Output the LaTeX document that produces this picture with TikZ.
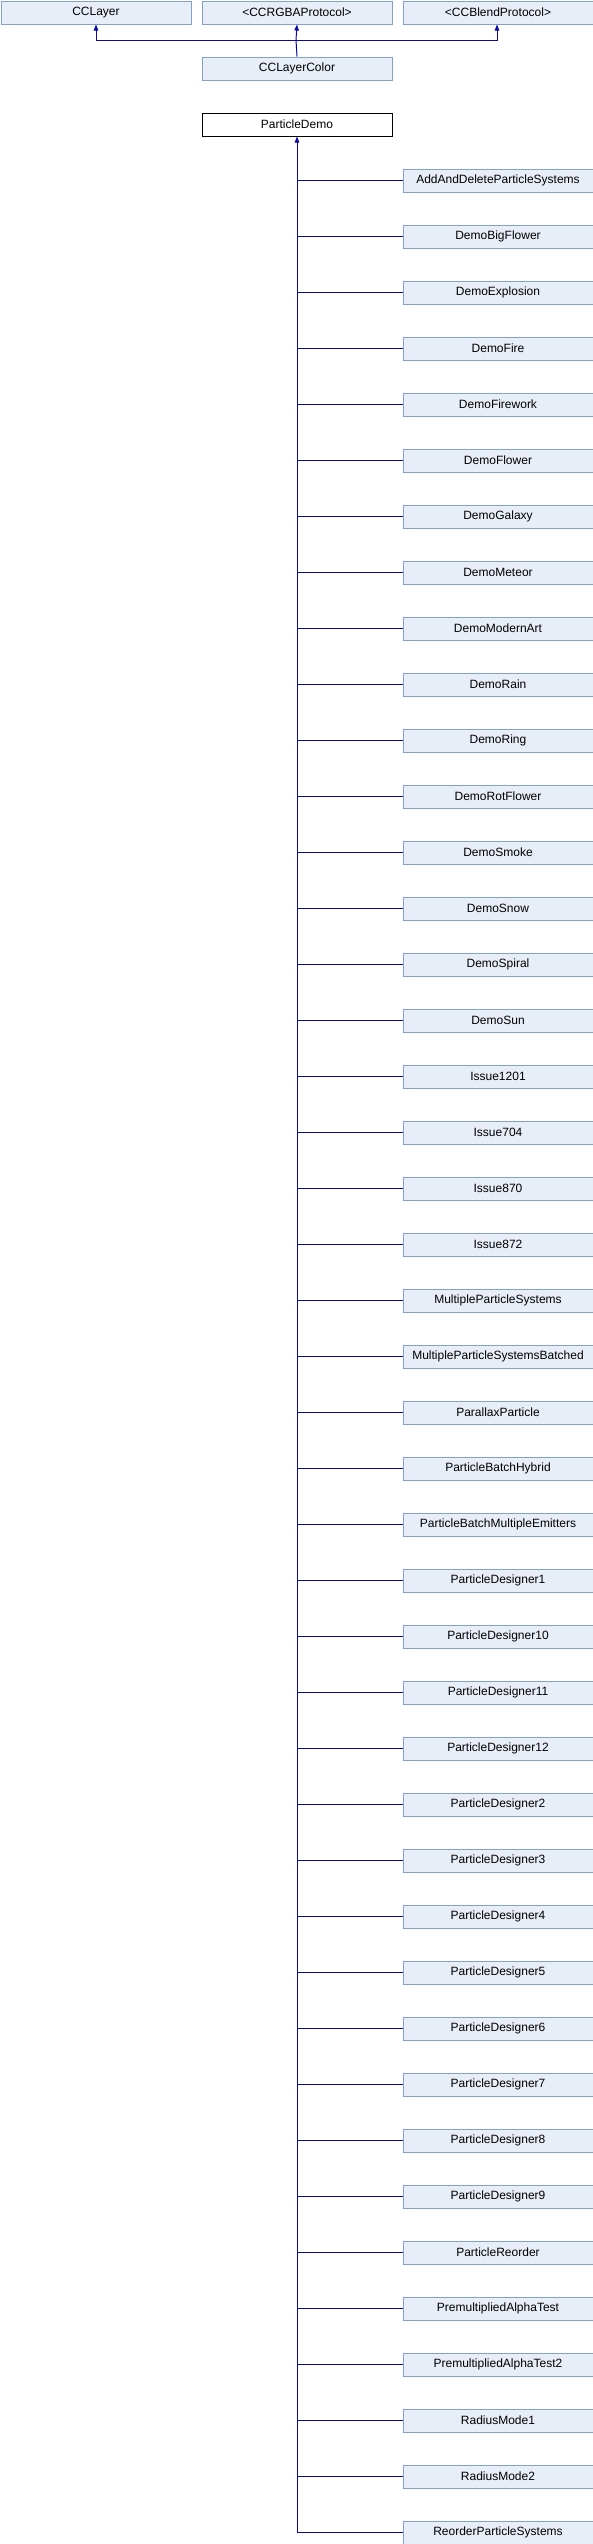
\documentclass[tikz,border=0pt]{standalone}
\usepackage{fontspec}
\setmainfont{Liberation Sans}
\usetikzlibrary{arrows.meta}
\definecolor{boxfill}{HTML}{E8EEF7}
\definecolor{boxline}{HTML}{84A0CC}
\definecolor{edge}{HTML}{0A0A9E}
\tikzset{
  cls/.style={draw=boxline, fill=boxfill, line width=1pt, minimum width=190pt, minimum height=23pt, inner sep=0pt, font=\fontsize{12}{14}\selectfont, anchor=north west},
  cur/.style={cls, draw=black, fill=white},
  inh/.style={draw=edge, line width=1pt, -{Triangle[width=4.5pt,length=6pt]}},
  plain/.style={draw=edge, line width=1pt}
}
\begin{document}
\begin{tikzpicture}[x=1pt,y=-1pt]
\useasboundingbox (0,0) rectangle (593,2544);
\node[cls] (cclayer) at (0.5,0.5) {CCLayer};
\node[cls] (rgba) at (201.5,0.5) {<CCRGBAProtocol>};
\node[cls] (blend) at (402.5,0.5) {<CCBlendProtocol>};
\node[cls] (color) at (201.5,56.5) {CCLayerColor};
\node[cur] (demo) at (201.5,112.5) {ParticleDemo};
\coordinate (j) at (296,40);
\draw[plain] (color.north) -- (j);
\draw[inh] (j) -| (cclayer.south -| 96,0);
\draw[inh] (j) -- (rgba.south);
\draw[inh] (j) -| (blend.south -| 497,0);
\foreach [count=\i from 0] \n in {AddAndDeleteParticleSystems,DemoBigFlower,DemoExplosion,DemoFire,DemoFirework,DemoFlower,DemoGalaxy,DemoMeteor,DemoModernArt,DemoRain,DemoRing,DemoRotFlower,DemoSmoke,DemoSnow,DemoSpiral,DemoSun,Issue1201,Issue704,Issue870,Issue872,MultipleParticleSystems,MultipleParticleSystemsBatched,ParallaxParticle,ParticleBatchHybrid,ParticleBatchMultipleEmitters,ParticleDesigner1,ParticleDesigner10,ParticleDesigner11,ParticleDesigner12,ParticleDesigner2,ParticleDesigner3,ParticleDesigner4,ParticleDesigner5,ParticleDesigner6,ParticleDesigner7,ParticleDesigner8,ParticleDesigner9,ParticleReorder,PremultipliedAlphaTest,PremultipliedAlphaTest2,RadiusMode1,RadiusMode2,ReorderParticleSystems}{
  \node[cls] (c\i) at (402.5,168.5+56*\i) {\n};
  \draw[plain] (c\i.west) -- (c\i.west -| demo.south);
}
\draw[inh] (c42.west -| demo.south) -- (demo.south);
\end{tikzpicture}
\end{document}
